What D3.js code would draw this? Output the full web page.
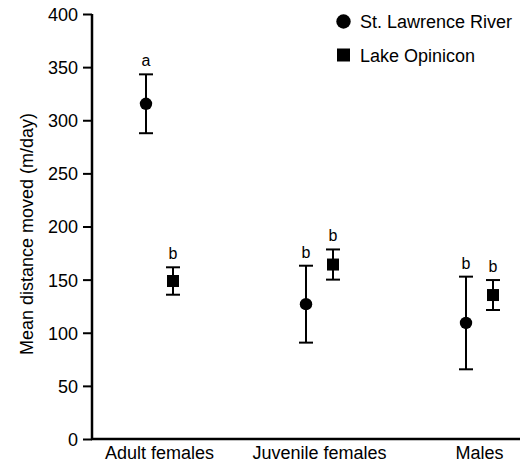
<!DOCTYPE html>
<html>
<head>
<meta charset="utf-8">
<script src="https://cdnjs.cloudflare.com/ajax/libs/d3/7.8.5/d3.min.js"></script>
<style>
  body { margin: 0; background: white; }
  text { font-family: "Liberation Sans", Arial, Helvetica, sans-serif; fill: black; }
</style>
</head>
<body>
<script>
const width = 520;
const height = 462;

const categories = ['Adult females', 'Juvenile females', 'Males'];
const series = ['St. Lawrence River', 'Lake Opinicon'];
const slr_mean = [315.5, 126.9, 109.2];
const slr_err = [27.7, 36.2, 43.6];
const slr_letters = ['a', 'b', 'b'];
const lo_mean = [148.7, 164.2, 135.5];
const lo_err = [12.9, 14.2, 14.1];
const lo_letters = ['b', 'b', 'b'];
const y_ticks = [0, 50, 100, 150, 200, 250, 300, 350, 400];

const margin = {top: 14, left: 92, bottom: 23};

const svg = d3.select('body')
    .append('svg')
    .attr('width', width)
    .attr('height', height);

const y = d3.scaleLinear()
    .domain([0, 400])
    .range([height - margin.bottom, margin.top]);

const x = d3.scalePoint()
    .domain(categories)
    .range([159.5, 479.5]);

const offset = 13.5;

// y axis
const yAxis = svg.append('g')
    .attr('transform', `translate(${margin.left},0)`)
    .call(d3.axisLeft(y).tickValues(y_ticks).tickSize(9).tickPadding(5));
yAxis.select('.domain').attr('stroke-width', 2.5).attr('d', `M0,${y(400)}V${y(0)}`);
yAxis.selectAll('.tick line').attr('stroke-width', 2);
yAxis.selectAll('.tick text')
    .attr('font-size', 18)
    .attr('font-family', '"Liberation Sans", Arial, sans-serif')
    .attr('dy', '0.36em');

// x axis line
svg.append('line')
    .attr('x1', margin.left - 1)
    .attr('x2', width)
    .attr('y1', y(0))
    .attr('y2', y(0))
    .attr('stroke', 'black')
    .attr('stroke-width', 2.5);

svg.append('g')
    .selectAll('text')
    .data(categories)
    .enter()
    .append('text')
    .attr('x', d => x(d))
    .attr('y', y(0) + 20)
    .attr('text-anchor', 'middle')
    .attr('font-size', 18)
    .text(d => d);

// y title
svg.append('text')
    .attr('transform', `translate(33, 234) rotate(-90)`)
    .attr('text-anchor', 'middle')
    .attr('font-size', 18)
    .text('Mean distance moved (m/day)');

const groups = [
    {mean: slr_mean, err: slr_err, letters: slr_letters, dx: -offset, shape: 'circle'},
    {mean: lo_mean, err: lo_err, letters: lo_letters, dx: offset, shape: 'square'}
];

groups.forEach(function (g) {
    const pts = categories.map((c, i) => ({
        x: x(c) + g.dx, m: g.mean[i], e: g.err[i], letter: g.letters[i]
    }));
    const sg = svg.append('g');
    sg.selectAll('.stem')
        .data(pts)
        .enter()
        .append('line')
        .attr('x1', d => d.x).attr('x2', d => d.x)
        .attr('y1', d => y(d.m + d.e)).attr('y2', d => y(d.m - d.e))
        .attr('stroke', 'black').attr('stroke-width', 2);
    [1, -1].forEach(function (s) {
        sg.selectAll(null)
            .data(pts)
            .enter()
            .append('line')
            .attr('x1', d => d.x - 7).attr('x2', d => d.x + 7)
            .attr('y1', d => y(d.m + s * d.e)).attr('y2', d => y(d.m + s * d.e))
            .attr('stroke', 'black').attr('stroke-width', 2);
    });
    if (g.shape === 'circle') {
        sg.selectAll('circle')
            .data(pts)
            .enter()
            .append('circle')
            .attr('cx', d => d.x).attr('cy', d => y(d.m))
            .attr('r', 6.2).attr('fill', 'black');
    } else {
        sg.selectAll('rect')
            .data(pts)
            .enter()
            .append('rect')
            .attr('x', d => d.x - 6).attr('y', d => y(d.m) - 6)
            .attr('width', 12).attr('height', 12).attr('fill', 'black');
    }
    sg.selectAll('text')
        .data(pts)
        .enter()
        .append('text')
        .attr('x', d => d.x)
        .attr('y', d => y(d.m + d.e) - 8)
        .attr('text-anchor', 'middle')
        .attr('font-size', 16)
        .text(d => d.letter);
});

// legend
const legend = svg.append('g');
legend.append('circle')
    .attr('cx', 343.5).attr('cy', 21.5).attr('r', 7.2).attr('fill', 'black');
legend.append('rect')
    .attr('x', 337).attr('y', 48.5).attr('width', 13).attr('height', 13).attr('fill', 'black');
legend.selectAll('text')
    .data(series)
    .enter()
    .append('text')
    .attr('x', 360)
    .attr('y', (d, i) => 28 + i * 34)
    .attr('font-size', 18)
    .text(d => d);
</script>
</body>
</html>
